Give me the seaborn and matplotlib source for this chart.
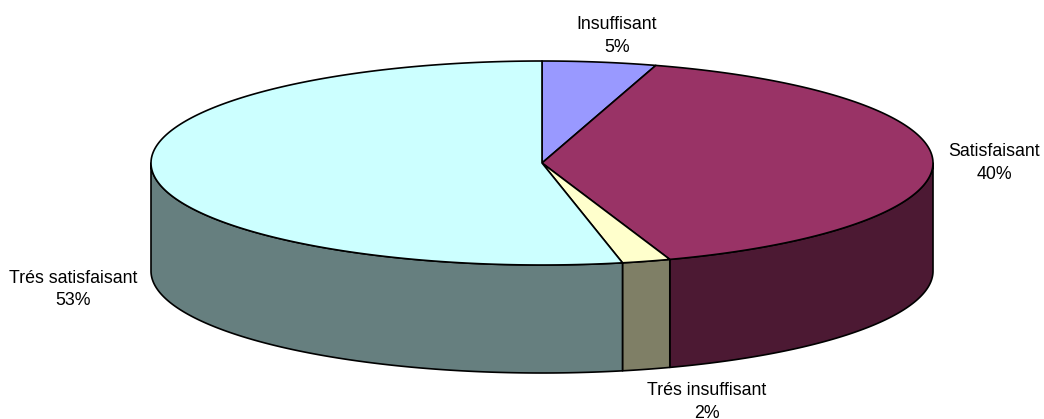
import numpy as np
import matplotlib
matplotlib.use("Agg")
import matplotlib.pyplot as plt
from matplotlib.patches import Polygon
import seaborn as sns

# Values and labels
labels = ["Insuffisant", "Satisfaisant", "Trés insuffisant", "Trés satisfaisant"]
shares = [4.7, 40.0, 2.0, 53.3]
shown = ["5%", "40%", "2%", "53%"]
top_colors = ["#9999FF", "#993366", "#FFFFCC", "#CCFFFF"]
side_colors = ["#4C4C7F", "#4C1933", "#7F7F66", "#667F7F"]

# Pie geometry, in pixels of the picture
CX, CY = 542, 163
RX, RY = 391, 102
DEPTH = 108
LINE = 1.2

label_pos = [(617, 36), (994, 163), (707, 402), (73, 289.5)]

sns.set_theme(style="white")
plt.rcParams["font.family"] = ["Liberation Sans", "DejaVu Sans"]


def rim(t1, t2, n=200):
    # points on the top ellipse, angle clockwise from 12 o'clock
    t = np.linspace(t1, t2, n)
    return CX + RX * np.sin(t), CY - RY * np.cos(t)


fig = plt.figure(figsize=(10.44, 4.19), dpi=100)
ax = fig.add_axes([0, 0, 1, 1])
ax.set_xlim(0, 1044)
ax.set_ylim(419, 0)
ax.axis("off")

edges = np.radians(np.cumsum([0] + shares) * 3.6)

# Side walls first, only the part facing the viewer
for i in range(len(shares)):
    t1 = max(edges[i], np.pi / 2)
    t2 = min(edges[i + 1], np.pi * 3 / 2)
    if t1 >= t2:
        continue
    x, y = rim(t1, t2)
    pts = np.r_[np.c_[x, y], np.c_[x[::-1], y[::-1] + DEPTH]]
    ax.add_patch(Polygon(pts, fc=side_colors[i], ec="black", lw=LINE, joinstyle="round"))

# Top slices
for i in range(len(shares)):
    x, y = rim(edges[i], edges[i + 1])
    pts = np.r_[[[CX, CY]], np.c_[x, y]]
    ax.add_patch(Polygon(pts, fc=top_colors[i], ec="black", lw=LINE, joinstyle="round"))

for name, val, (px, py) in zip(labels, shown, label_pos):
    ax.text(px, py, name + "\n" + val, ha="center", va="center", fontsize=12.8,
            color="black", linespacing=1.4)

fig.savefig("out.png", dpi=100, facecolor="white")
